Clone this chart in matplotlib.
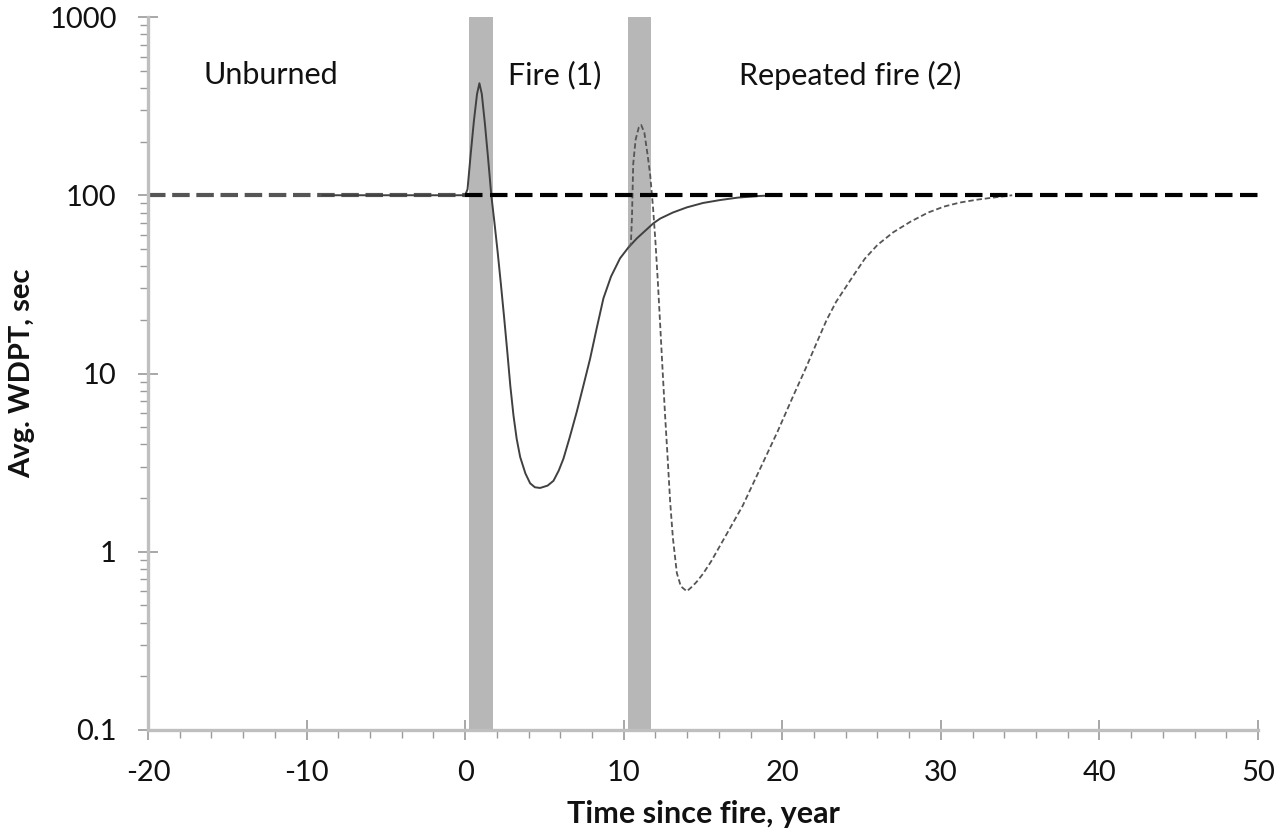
import matplotlib
matplotlib.use("Agg")
import matplotlib.pyplot as plt
from matplotlib.ticker import FixedLocator, MultipleLocator, LogLocator, NullFormatter, FuncFormatter

# ---------------- data ----------------
fire_years = [1, 11]          # centres of the fire events (years)
fire_duration = 1.5           # width of each fire band (years)

baseline_value = 100
baseline_left = [-20, 0]
baseline_right = [0, 50]

# Fire (1) - solid curve
fire1_t = [-9, 0.0, 0.15, 0.35, 0.55, 0.75, 0.9, 1.05, 1.25, 1.45, 1.65, 1.85, 2.05, 2.25,
           2.45, 2.65, 2.85, 3.05, 3.25, 3.47, 3.8, 4.1, 4.4, 4.73, 5.2, 5.57, 5.9, 6.2, 6.6,
           7.04, 7.45, 7.88, 8.3, 8.72, 9.2, 9.77, 10.3, 10.83, 11.87, 12.3, 13.1, 13.98,
           15.0, 16.08, 17.2, 18.5, 19.5]
fire1_v = [100, 100, 108, 170, 260, 370, 425, 370, 250, 160, 100, 70, 48, 32,
           21, 13.5, 8.5, 5.8, 4.3, 3.4, 2.75, 2.42, 2.3, 2.28, 2.35, 2.5, 2.85, 3.33, 4.4,
           6.1, 8.5, 12.1, 18, 26.4, 35, 44.3, 51, 57.3, 69.6, 74, 80, 85.5,
           90.5, 94, 97, 99, 100]

# Repeated fire (2) - dashed curve (branches off the solid curve)
fire2_t = [10.3, 10.45, 10.52, 10.6, 10.75, 10.95, 11.1, 11.3, 11.5, 11.67, 11.85, 12.0,
           12.15, 12.3, 12.45, 12.61, 12.75, 12.93, 13.1, 13.35, 13.6, 13.98, 14.3, 14.6,
           15.0, 15.5, 16.5, 17.5, 18.6, 19.7, 20.7, 21.5, 22.2, 22.8, 23.4, 24.5, 25.2, 26.0,
           27.0, 28.1, 29.2, 30.2, 31.2, 32.3, 33.5, 34.5]
fire2_v = [51, 53, 75, 150, 205, 240, 248, 225, 170, 130, 85, 55,
           33, 18.7, 10.5, 5.8, 3.6, 1.9, 1.2, 0.76, 0.64, 0.6, 0.636, 0.678,
           0.752, 0.879, 1.26, 1.81, 2.92, 4.72, 7.52, 10.8, 15.1, 20, 25.3, 35.6, 44, 52.6,
           62, 71.2, 80, 86.4, 91, 94.5, 97.5, 100]

region_labels = ["Unburned", "Fire (1)", "Repeated fire (2)"]
region_label_x = [-16.5, 2.7, 17.3]
region_label_y = 470

x_ticks = [-20, -10, 0, 10, 20, 30, 40, 50]
y_ticks = [0.1, 1, 10, 100, 1000]
y_tick_labels = ["0.1", "1", "10", "100", "1000"]

x_label = "Time since fire, year"
y_label = "Avg. WDPT, sec"

# ---------------- figure ----------------
FONT = ["Lato", "DejaVu Sans"]
plt.rcParams["font.family"] = FONT
plt.rcParams["axes.unicode_minus"] = False

fig = plt.figure(figsize=(12.8, 8.39), dpi=100)
ax = fig.add_axes([148 / 1280, 1 - 730 / 839, 1110 / 1280, 713 / 839])

ax.set_yscale("log")
ax.set_xlim(-20, 50)
ax.set_ylim(0.1, 1000)

for fy in fire_years:
    ax.axvspan(fy - fire_duration / 2, fy + fire_duration / 2, color="#b7b7b7", lw=0, zorder=1)

ax.plot(baseline_left, [baseline_value] * 2, color="#555555", lw=3.0,
        dashes=(4.2, 1.6), zorder=2, dash_capstyle="butt")
ax.plot(baseline_right, [baseline_value] * 2, color="#000000", lw=3.0,
        dashes=(4.2, 1.8), zorder=4, dash_capstyle="butt")

ax.plot(fire1_t, fire1_v, color="#404040", lw=1.4, zorder=3)
ax.plot(fire2_t, fire2_v, color="#555555", lw=1.3, dashes=(3, 1.6), zorder=3)

for txt, xx in zip(region_labels, region_label_x):
    ax.text(xx, region_label_y, txt, fontsize=22, color="#111111", ha="left", va="center")

# spines
for s in ["top", "right"]:
    ax.spines[s].set_visible(False)
for s in ["left", "bottom"]:
    ax.spines[s].set_color("#bfbfbf")
    ax.spines[s].set_linewidth(2.4)

# ticks
ax.xaxis.set_major_locator(FixedLocator(x_ticks))
ax.xaxis.set_minor_locator(MultipleLocator(2))
ax.yaxis.set_major_locator(FixedLocator(y_ticks))
ax.yaxis.set_major_formatter(FuncFormatter(lambda v, p: y_tick_labels[y_ticks.index(v)] if v in y_ticks else ""))
ax.yaxis.set_minor_locator(LogLocator(base=10, subs=range(2, 10)))
ax.yaxis.set_minor_formatter(NullFormatter())

ax.tick_params(axis="x", which="major", direction="inout", length=15, width=1.2,
               color="#9a9a9a", labelsize=21, pad=14, labelcolor="#111111")
ax.tick_params(axis="x", which="minor", direction="out", length=6, width=1.0, color="#9a9a9a")
ax.tick_params(axis="y", which="major", direction="inout", length=15, width=1.2,
               color="#9a9a9a", labelsize=21, pad=15, labelcolor="#111111")
ax.tick_params(axis="y", which="minor", direction="out", length=6, width=1.0, color="#9a9a9a")

ax.set_xlabel(x_label, fontsize=22, fontweight="bold", color="#111111")
ax.xaxis.set_label_coords(0.5, -0.098)
ax.text(-0.125, 0.5, y_label, transform=ax.transAxes, rotation=90, fontsize=21,
        fontweight="bold", color="#111111", ha="left", va="center")

fig.savefig("out.png", dpi=100)
